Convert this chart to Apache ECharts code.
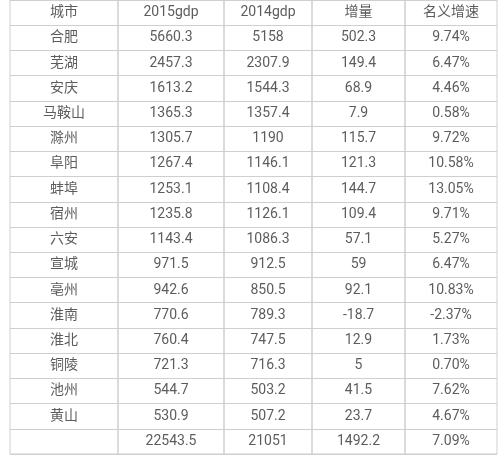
<!DOCTYPE html><html><head><meta charset="utf-8">
<script src="https://cdn.jsdelivr.net/npm/echarts@6/dist/echarts.min.js"></script>
<style>html,body{margin:0;background:#fff}#c{width:500px;height:455px}</style></head><body><div id="c"></div>
<script>
const headers = ['城市','2015gdp','2014gdp','增量','名义增速'];
const cities = ['合肥','芜湖','安庆','马鞍山','滁州','阜阳','蚌埠','宿州','六安','宣城','亳州','淮南','淮北','铜陵','池州','黄山',''];
const gdp2015 = ['5660.3','2457.3','1613.2','1365.3','1305.7','1267.4','1253.1','1235.8','1143.4','971.5','942.6','770.6','760.4','721.3','544.7','530.9','22543.5'];
const gdp2014 = ['5158','2307.9','1544.3','1357.4','1190','1146.1','1108.4','1126.1','1086.3','912.5','850.5','789.3','747.5','716.3','503.2','507.2','21051'];
const increase = ['502.3','149.4','68.9','7.9','115.7','121.3','144.7','109.4','57.1','59','92.1','-18.7','12.9','5','41.5','23.7','1492.2'];
const growth = ['9.74%','6.47%','4.46%','0.58%','9.72%','10.58%','13.05%','9.71%','5.27%','6.47%','10.83%','-2.37%','1.73%','0.70%','7.62%','4.67%','7.09%'];
const columns = [cities, gdp2015, gdp2014, increase, growth];
const edges = [10,118,224,312,405,497];
const rowIdx = headers.map((_, i) => i);
const nRows = cities.length + 1;
const rowCats = Array.from({length: nRows}, (_, i) => String(i));
const grids=[], xAxes=[], yAxes=[], series=[];
columns.forEach((col, c) => {
  grids.push({left: edges[c], width: edges[c+1]-edges[c], top: 0, height: 454, show: true, borderColor: '#cfcfcf', borderWidth: 1});
  xAxes.push({gridIndex: c, type: 'value', min: 0, max: 1, show: false});
  yAxes.push({gridIndex: c, type: 'category', inverse: true, data: rowCats, axisLabel: {show: false}, axisTick: {show: false}, axisLine: {show: false}, splitLine: {show: true, lineStyle: {color: '#cfcfcf'}}});
  const texts = [headers[c]].concat(col);
  series.push({type: 'scatter', xAxisIndex: c, yAxisIndex: c, symbolSize: 0, silent: true,
    data: texts.map((t, r) => ({value: [0.5, String(r)], name: t})),
    label: {show: true, position: 'inside', formatter: p => p.name, color: '#333', fontSize: 14, fontFamily: 'Roboto, "Noto Sans CJK SC", sans-serif'}});
});
echarts.init(document.getElementById('c')).setOption({backgroundColor: '#fff', animation: false, grid: grids, xAxis: xAxes, yAxis: yAxes, series});
</script></body></html>
